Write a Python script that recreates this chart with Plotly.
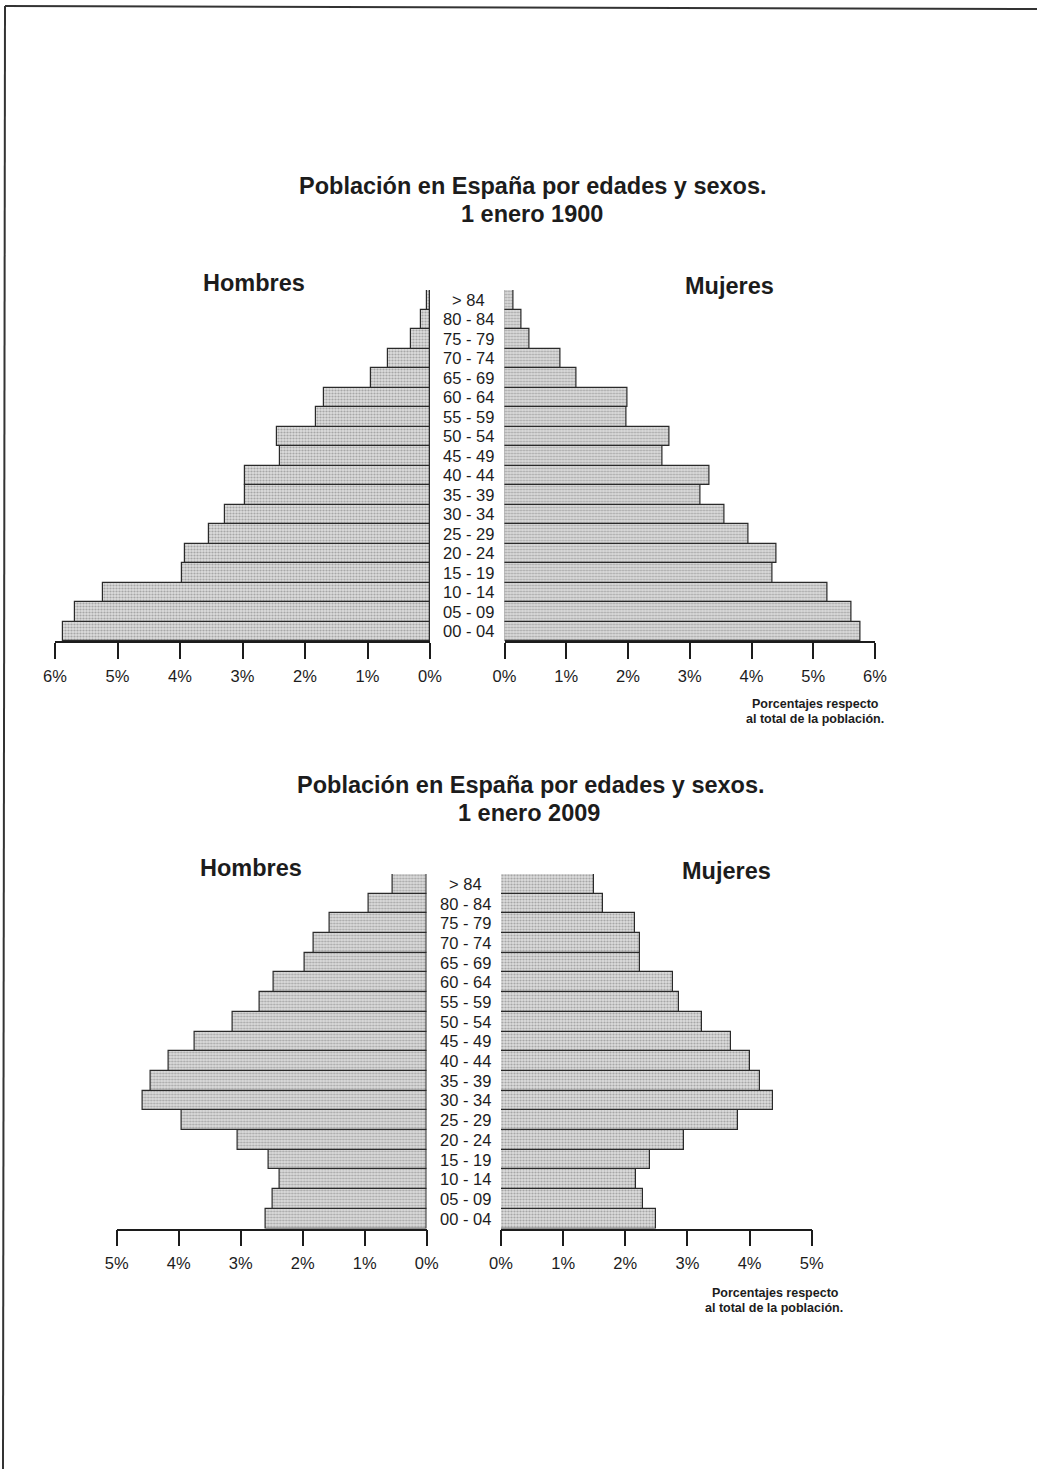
import plotly.graph_objects as go

W, H = 1037, 1469

# ---------------- data ----------------
age_groups = ["00 - 04", "05 - 09", "10 - 14", "15 - 19", "20 - 24", "25 - 29",
              "30 - 34", "35 - 39", "40 - 44", "45 - 49", "50 - 54", "55 - 59",
              "60 - 64", "65 - 69", "70 - 74", "75 - 79", "80 - 84", "> 84"]

hombres_1900 = [5.88, 5.68, 5.24, 3.97, 3.92, 3.54, 3.28, 2.96, 2.96, 2.40,
                2.45, 1.83, 1.69, 0.94, 0.68, 0.30, 0.14, 0.05]
mujeres_1900 = [5.76, 5.62, 5.23, 4.34, 4.40, 3.95, 3.56, 3.18, 3.32, 2.56,
                2.68, 1.98, 1.99, 1.17, 0.90, 0.40, 0.28, 0.15]
hombres_2009 = [2.59, 2.48, 2.37, 2.55, 3.05, 3.95, 4.58, 4.45, 4.16, 3.74,
                3.13, 2.70, 2.47, 1.96, 1.83, 1.57, 0.94, 0.55]
mujeres_2009 = [2.49, 2.28, 2.18, 2.40, 2.95, 3.81, 4.38, 4.17, 4.00, 3.70,
                3.23, 2.86, 2.77, 2.24, 2.24, 2.15, 1.64, 1.49]

ticks_1900 = [0, 1, 2, 3, 4, 5, 6]
ticklabels_1900 = ["0%", "1%", "2%", "3%", "4%", "5%", "6%"]
ticks_2009 = [0, 1, 2, 3, 4, 5]
ticklabels_2009 = ["0%", "1%", "2%", "3%", "4%", "5%"]

title_line1 = "Población en España por edades y sexos."
title_1900 = "1 enero 1900"
title_2009 = "1 enero 2009"
note_lines = ["Porcentajes respecto", "al total de la población."]


# ---------------- helpers ----------------
def px(x):
    return x / W


def py(y):
    return 1 - y / H


FONT = "Liberation Sans, Arial, Helvetica, sans-serif"
INK = "#1c1c1c"

bar_marker = dict(
    color="#d0d0d0",
    line=dict(color="#2a2a2a", width=1.2),
    pattern=dict(shape=".", fgcolor="#727272", bgcolor="#dcdcdc", size=3, solidity=0.42),
)

fig = go.Figure()
fig.add_trace(go.Bar(y=age_groups, x=hombres_1900, orientation="h", xaxis="x", yaxis="y",
                     marker=bar_marker, showlegend=False, hoverinfo="skip"))
fig.add_trace(go.Bar(y=age_groups, x=mujeres_1900, orientation="h", xaxis="x2", yaxis="y",
                     marker=bar_marker, showlegend=False, hoverinfo="skip"))
fig.add_trace(go.Bar(y=age_groups, x=hombres_2009, orientation="h", xaxis="x3", yaxis="y2",
                     marker=bar_marker, showlegend=False, hoverinfo="skip"))
fig.add_trace(go.Bar(y=age_groups, x=mujeres_2009, orientation="h", xaxis="x4", yaxis="y2",
                     marker=bar_marker, showlegend=False, hoverinfo="skip"))


def xax(domain, rng, anchor, tickvals, ticktext):
    return dict(
        domain=[px(domain[0]), px(domain[1])], range=rng, anchor=anchor,
        tickmode="array", tickvals=tickvals, ticktext=ticktext,
        showline=True, linecolor=INK, linewidth=1.5,
        ticks="outside", ticklen=16, tickwidth=1.5, tickcolor=INK,
        ticklabelstandoff=3,
        showgrid=False, zeroline=False, automargin=False,
        tickfont=dict(family=FONT, size=16.5, color=INK),
        fixedrange=True,
    )


def yax(top, bottom, anchor):
    return dict(
        domain=[py(bottom), py(top)], anchor=anchor, type="category",
        categoryorder="array", categoryarray=age_groups,
        range=[-0.5, len(age_groups) - 0.5],
        visible=False, automargin=False, fixedrange=True,
    )


fig.update_layout(
    width=W, height=H,
    margin=dict(l=0, r=0, t=0, b=0, pad=0, autoexpand=False),
    paper_bgcolor="white", plot_bgcolor="rgba(0,0,0,0)",
    bargap=0,
    xaxis=xax((55, 430), [6, 0], "y", ticks_1900, ticklabels_1900),
    xaxis2=xax((504.5, 875), [0, 6], "y", ticks_1900, ticklabels_1900),
    yaxis=yax(290, 641, "x"),
    xaxis3=xax((116.7, 426.7), [5, 0], "y2", ticks_2009, ticklabels_2009),
    xaxis4=xax((501, 811.7), [0, 5], "y2", ticks_2009, ticklabels_2009),
    yaxis2=yax(874, 1228.5, "x3"),
)

annotations = []


def text(x, y, s, size, bold=False, yref="paper"):
    annotations.append(dict(
        x=px(x), y=(py(y) if yref == "paper" else y), xref="paper", yref=yref,
        text=("<b>%s</b>" % s) if bold else s, showarrow=False,
        xanchor="center", yanchor="middle",
        font=dict(family=FONT, size=size, color=INK),
    ))


# chart 1 texts
text(532.5, 186, title_line1, 23.5, True)
text(532, 214, title_1900, 23.5, True)
text(254, 283, "Hombres", 23.5, True)
text(729, 286, "Mujeres", 23.5, True)
text(815, 704, note_lines[0], 12.5, True)
text(815, 719, note_lines[1], 12.5, True)
for a in age_groups:
    text(468, a, a, 16.5, False, yref="y")

# chart 2 texts
text(530.5, 785, title_line1, 23.5, True)
text(529, 813, title_2009, 23.5, True)
text(251, 868, "Hombres", 23.5, True)
text(726, 871, "Mujeres", 23.5, True)
text(775, 1293, note_lines[0], 12.5, True)
text(774, 1308, note_lines[1], 12.5, True)
for a in age_groups:
    text(465, a, a, 16.5, False, yref="y2")

fig.update_layout(annotations=annotations)

# page border (scanned sheet edges)
fig.update_layout(shapes=[
    dict(type="line", xref="paper", yref="paper", x0=px(5), y0=py(6), x1=px(1037), y1=py(9),
         line=dict(color="#333", width=2)),
    dict(type="line", xref="paper", yref="paper", x0=px(5), y0=py(6), x1=px(3), y1=py(1469),
         line=dict(color="#333", width=2)),
])

fig.write_html(
    "out.html",
    config={"displayModeBar": False},
    post_script="document.body.style.margin='0';document.body.style.padding='0';"
                "document.body.style.overflow='hidden';",
)
